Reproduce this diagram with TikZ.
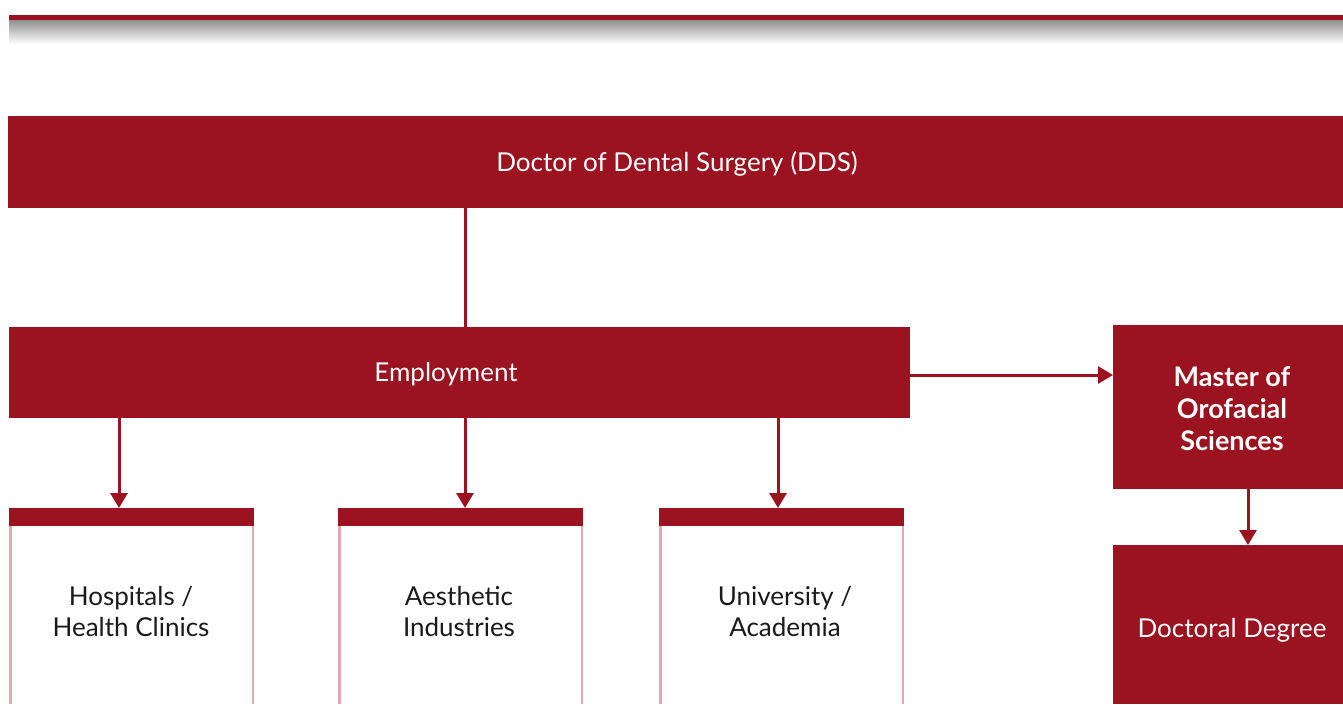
\documentclass[tikz,border=0pt]{standalone}
\usepackage{fontspec}
\setmainfont{Lato}
\usetikzlibrary{arrows.meta}
\definecolor{dred}{HTML}{9B1220}
\definecolor{pinkline}{HTML}{E2AAB0}
\definecolor{txt}{HTML}{1A1A1A}
\tikzset{
  redbox/.style={fill=dred, inner sep=0pt, anchor=north west},
  whitetext/.style={text=white, inner sep=0pt, align=center, font=\fontsize{26}{32}\selectfont},
  headbar/.style={fill=dred, inner sep=0pt, anchor=north west, minimum width=245pt, minimum height=18pt},
  bodytext/.style={inner sep=0pt, align=center, text=txt, font=\fontsize{26}{31}\selectfont},
  side/.style={pinkline, line width=2.5pt},
  conn/.style={dred, line width=3pt},
  arr/.style={conn, -{Triangle[width=17pt,length=15pt]}},
}
\begin{document}
\begin{tikzpicture}[x=1pt,y=-1pt]
\useasboundingbox (0,0) rectangle (1343,704);
% top bar
\shade[top color=black!45, bottom color=white] (9,19) rectangle (1343,44);
\fill[dred] (9,15) rectangle (1343,19.5);
% main boxes
\node[redbox, minimum width=1335pt, minimum height=92pt] (dds) at (8,116) {};
\node[whitetext] (ddst) at (677,164) {Doctor of Dental Surgery (DDS)};
\node[redbox, minimum width=901pt, minimum height=91pt] (emp) at (9,327) {};
\node[whitetext] (empt) at (446,374.5) {Employment};
\node[redbox, minimum width=230pt, minimum height=164pt] (mos) at (1113,325) {};
\node[whitetext, font=\bfseries\fontsize{27}{32}\selectfont] (most) at (1232,408.5) {Master of\\Orofacial\\Sciences};
\node[redbox, minimum width=230pt, minimum height=159pt] (doc) at (1113,545) {};
\node[whitetext] (doct) at (1232,630) {Doctoral Degree};
% bottom boxes
\node[headbar] (h1) at (9,508) {};
\node[headbar] (h2) at (338,508) {};
\node[headbar] (h3) at (659,508) {};
\foreach \h in {h1,h2,h3}{
  \draw[side] ([xshift=1.25pt]\h.south west) -- ++(0,178);
  \draw[side] ([xshift=-1.25pt]\h.south east) -- ++(0,178);
}
\node[bodytext] (b1) at (131,611.5) {Hospitals /\\Health Clinics};
\node[bodytext] (b2) at (459,611.5) {Aesthetic\\Industries};
\node[bodytext] (b3) at (785,611.5) {University /\\Academia};
% connectors
\draw[conn] (dds.south -| 465,0) -- (emp.north -| 465,0);
\draw[arr] (emp.south -| 119,0) -- (h1.north -| 119,0);
\draw[arr] (emp.south -| 465,0) -- (h2.north -| 465,0);
\draw[arr] (emp.south -| 778,0) -- (h3.north -| 778,0);
\draw[arr] (emp.east |- 0,375) -- (mos.west |- 0,375);
\draw[arr] (mos.south -| 1248,0) -- (doc.north -| 1248,0);
\end{tikzpicture}
\end{document}
